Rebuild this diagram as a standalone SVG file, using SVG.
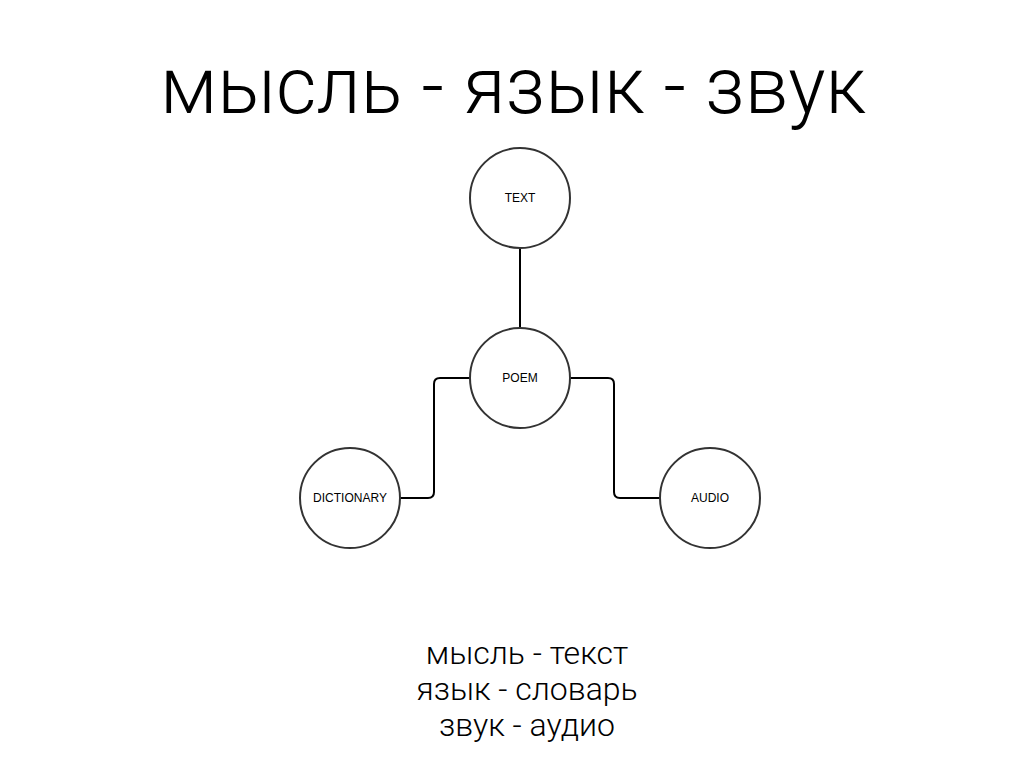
<svg xmlns="http://www.w3.org/2000/svg" width="1024" height="768" viewBox="0 0 1024 768">
<style>
text{font-family:"Liberation Sans",Arial,sans-serif;fill:#000}
.light{font-family:Roboto,"Liberation Sans",Arial,sans-serif;font-weight:300}
.node circle{fill:#fff;stroke:#333;stroke-width:2}
.node text{font-size:12px;text-anchor:middle}
.edge{fill:none;stroke:#000;stroke-width:2}
.title{font-size:80px;text-anchor:middle}
.sub{font-size:32px;text-anchor:middle}
</style>
<rect width="1024" height="768" fill="#fff"/>
<text class="title light" x="513" y="113" textLength="706" lengthAdjust="spacingAndGlyphs">мысль - язык - звук</text>
<g id="connectors">
<path class="edge" d="M520 248 V328"/>
<path class="edge" d="M470 378 H440 Q434 378 434 384 V492 Q434 498 428 498 H400"/>
<path class="edge" d="M570 378 H608 Q614 378 614 384 V492 Q614 498 620 498 H660"/>
</g>
<g id="node-text" class="node"><circle cx="520" cy="198" r="50"/><text x="520" y="202">TEXT</text></g>
<g id="node-poem" class="node"><circle cx="520" cy="378" r="50"/><text x="520" y="382">POEM</text></g>
<g id="node-dictionary" class="node"><circle cx="350" cy="498" r="50"/><text x="350" y="502">DICTIONARY</text></g>
<g id="node-audio" class="node"><circle cx="710" cy="498" r="50"/><text x="710" y="502">AUDIO</text></g>
<text class="sub light" x="527" y="664">мысль - текст</text>
<text class="sub light" x="527" y="700">язык - словарь</text>
<text class="sub light" x="527" y="736">звук - аудио</text>
</svg>
